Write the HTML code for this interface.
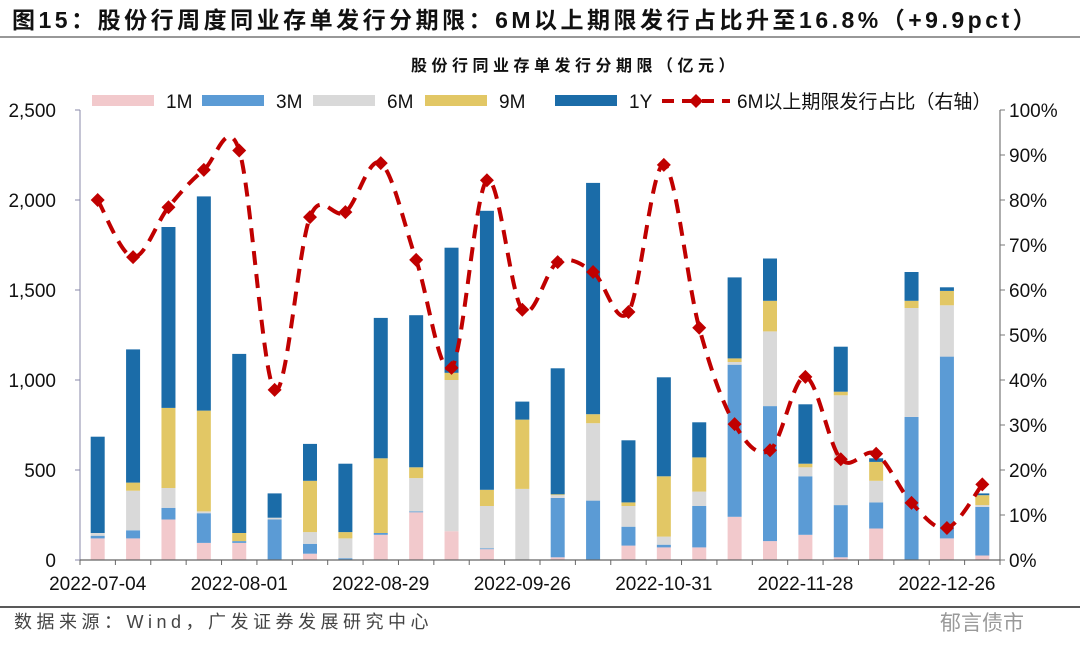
<!DOCTYPE html>
<html><head><meta charset="utf-8"><style>
body{margin:0;background:#fff;width:1080px;height:667px;overflow:hidden;font-family:"Liberation Sans","Noto Sans CJK SC",sans-serif}
svg text{font-family:"Liberation Sans","Noto Sans CJK SC",sans-serif}
</style></head><body>
<svg id="c" width="1080" height="667">
<text x="12" y="28" font-size="23" font-weight="bold" fill="#111" letter-spacing="3.5">图15：股份行周度同业存单发行分期限：6M以上期限发行占比升至16.8%（+9.9pct）</text>
<line x1="0" y1="37" x2="1080" y2="37" stroke="#777" stroke-width="1.5"/>
<text x="575" y="71" font-size="16" font-weight="bold" text-anchor="middle" fill="#111" letter-spacing="4.5">股份行同业存单发行分期限（亿元）</text>
<g id="legend"></g>
<g id="plot"></g>
<line x1="0" y1="607" x2="1080" y2="607" stroke="#222" stroke-width="1.5"/>
<text x="14" y="628" font-size="18" fill="#444" letter-spacing="4.5">数据来源：Wind，广发证券发展研究中心</text>
<text x="940" y="630" font-size="21" fill="#999">郁言债市</text>
</svg>
<script>
const categories=["2022-07-04","","","","2022-08-01","","","","2022-08-29","","","","2022-09-26","","","","2022-10-31","","","","2022-11-28","","","","2022-12-26",""];
const s1M=[120,120,225,95,95,0,35,0,140,265,160,60,0,15,0,80,70,70,240,105,140,15,175,0,120,25];
const s3M=[15,45,65,165,10,225,55,10,10,5,0,5,0,330,330,105,15,230,845,750,325,290,145,795,1010,270];
const s6M=[15,220,110,10,0,10,65,110,0,185,840,235,395,15,430,115,45,80,15,415,50,610,120,605,285,10];
const s9M=[0,45,445,560,45,0,285,35,415,60,40,90,385,5,50,20,335,190,20,170,20,20,105,40,80,55];
const s1Y=[535,740,1005,1190,995,135,205,380,780,845,695,1550,100,700,1285,345,550,195,450,235,330,250,20,160,20,10];
const ratio=[80,67.3,78.4,86.7,91,37.8,76.2,77.3,88.2,66.7,42.7,84.4,55.6,66.2,64,55.1,87.8,51.6,30.2,24.4,40.7,22.4,23.6,12.7,7.1,16.8];
const leftTicks=[0,500,1000,1500,2000,2500];
const rightTicks=[0,10,20,30,40,50,60,70,80,90,100];
const seriesNames=["1M","3M","6M","9M","1Y"];
const colors=["#f2c9cc","#5b9bd5","#d9d9d9","#e2c765","#1b6ca8"];
const NS="http://www.w3.org/2000/svg";
const X0=80,X1=1000,Y0=560,Y1=110;
const n=categories.length,step=(X1-X0)/n;
const xc=i=>X0+step*(i+0.5);
const yL=v=>Y0-(v/2500)*(Y0-Y1);
const yR=v=>Y0-(v/100)*(Y0-Y1);
function mk(t,a,p){const e=document.createElementNS(NS,t);for(const k in a)e.setAttribute(k,a[k]);(p||plot).appendChild(e);return e;}
const plot=document.getElementById('plot');
const series=[s1M,s3M,s6M,s9M,s1Y];
for(let i=0;i<n;i++){let cum=0;for(let s=0;s<5;s++){const v=series[s][i];if(v<=0)continue;
const r=mk('rect',{x:xc(i)-7,y:yL(cum+v),width:14,height:yL(cum)-yL(cum+v),fill:colors[s]});


cum+=v;}}
let a=mk('line',{x1:X0,y1:Y1,x2:X0,y2:Y0,stroke:'#8888aa','stroke-width':1});

a=mk('line',{x1:X1,y1:Y1,x2:X1,y2:Y0,stroke:'#777','stroke-width':1.2});

a=mk('line',{x1:X0,y1:Y0,x2:X1,y2:Y0,stroke:'#666','stroke-width':1.2});

leftTicks.forEach(v=>{mk('line',{x1:X0-5,y1:yL(v),x2:X0,y2:yL(v),stroke:'#8888aa'});
const t=mk('text',{x:56,y:yL(v)+7,'font-size':19,'text-anchor':'end',fill:'#111'});t.textContent=v.toLocaleString('en-US');
});
rightTicks.forEach(v=>{mk('line',{x1:X1,y1:yR(v),x2:X1+5,y2:yR(v),stroke:'#777'});
const t=mk('text',{x:1009,y:yR(v)+7,'font-size':19,fill:'#111'});t.textContent=v+'%';
});
for(let i=0;i<=n;i++)mk('line',{x1:X0+step*i,y1:Y0,x2:X0+step*i,y2:Y0+5,stroke:'#666'});
categories.forEach((c,i)=>{if(!c)return;const t=mk('text',{x:xc(i),y:590,'font-size':19,'text-anchor':'middle',fill:'#111'});t.textContent=c;
});
const pts=ratio.map((v,i)=>[xc(i),yR(v)]);
let d='M'+pts[0][0]+','+pts[0][1];
for(let i=0;i<pts.length-1;i++){const p0=pts[Math.max(0,i-1)],p1=pts[i],p2=pts[i+1],p3=pts[Math.min(pts.length-1,i+2)];
d+=' C'+(p1[0]+(p2[0]-p0[0])/6)+','+(p1[1]+(p2[1]-p0[1])/6)+' '+(p2[0]-(p3[0]-p1[0])/6)+','+(p2[1]-(p3[1]-p1[1])/6)+' '+p2[0]+','+p2[1];}
const ln=mk('path',{d:d,fill:'none',stroke:'#c00000','stroke-width':4,'stroke-dasharray':'14,9'});

pts.forEach(p=>{const m=mk('path',{d:`M${p[0]},${p[1]-7}L${p[0]+7},${p[1]}L${p[0]},${p[1]+7}L${p[0]-7},${p[1]}Z`,fill:'#c00000'});
});
const lg=document.getElementById('legend');
const lx=[92,202,313,425,555];
seriesNames.forEach((s,i)=>{const r=mk('rect',{x:lx[i],y:95,width:62,height:11,fill:colors[i]},lg);

const t=mk('text',{x:lx[i]+74,y:108,'font-size':19,fill:'#111'},lg);t.textContent=s;
});
const ll=mk('line',{x1:662,y1:101,x2:730,y2:101,stroke:'#c00000','stroke-width':4,'stroke-dasharray':'12,8'},lg);

mk('path',{d:'M696,94L703,101L696,108L689,101Z',fill:'#c00000'},lg);
const lt=mk('text',{x:737,y:108,'font-size':19,fill:'#111'},lg);lt.textContent='6M以上期限发行占比（右轴）';

</script>
</body></html>
